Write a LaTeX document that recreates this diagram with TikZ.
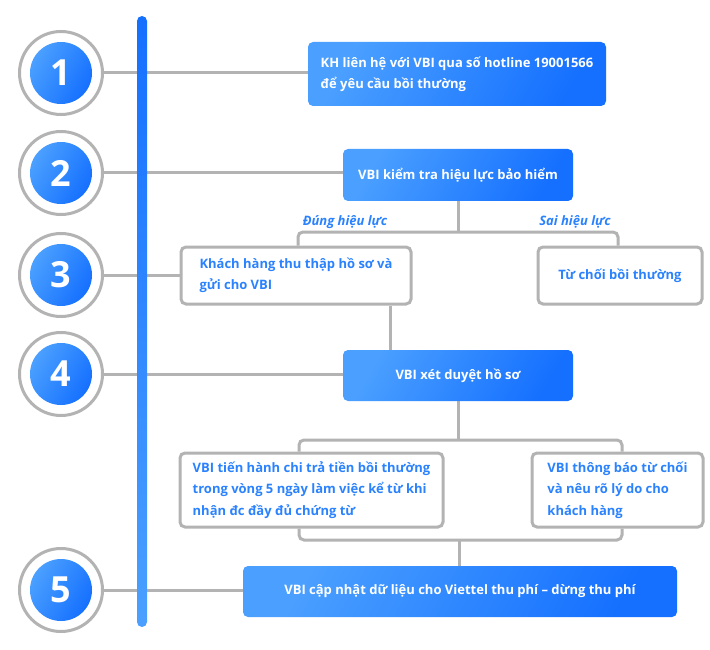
\documentclass[tikz,border=0pt]{standalone}
\usepackage{fontspec}
\setmainfont{Open Sans}
\usetikzlibrary{backgrounds}
\definecolor{bdark}{HTML}{1570FF}
\definecolor{blight}{HTML}{4BA0FF}
\definecolor{gline}{HTML}{B3B3B3}
\definecolor{tblue}{HTML}{2A82FF}
\pgfdeclarelayer{bgzero}
\pgfsetlayers{bgzero,background,main}
\tikzset{
  bluebox/.style={rounded corners=5pt, left color=blight, right color=bdark, shading angle=60,
    text=white, font=\bfseries\fontsize{13}{21}\selectfont, inner sep=0pt},
  whitebox/.style={rounded corners=5pt, draw=gline, line width=3pt, fill=white,
    text=tblue, font=\bfseries\fontsize{13}{21.5}\selectfont, inner sep=0pt},
  ring/.style={circle, draw=gline, line width=3pt, fill=white, minimum size=83pt, inner sep=0pt},
  disc/.style={circle, left color=blight, right color=bdark, shading angle=60, minimum size=62pt,
    inner sep=0pt, text=white, font=\bfseries\fontsize{36}{36}\selectfont},
  conn/.style={draw=gline, line width=3pt, rounded corners=5pt},
  brlabel/.style={text=tblue, font=\bfseries\itshape\fontsize{13}{14}\selectfont, inner sep=0pt}
}
\begin{document}
\begin{tikzpicture}[x=1pt,y=-1pt]
\begin{pgfonlayer}{bgzero}
\fill[white] (0,0) rectangle (710,650);
\end{pgfonlayer}
\useasboundingbox (0,0) rectangle (710,650);
% circles
\foreach \n/\y in {1/73,2/173,3/275,4/374,5/590}{
  \node[ring] (c\n) at (61,\y) {};
  \node[disc] (d\n) at (61,\y) {\n};
}
% boxes
\node[bluebox, minimum width=298pt, minimum height=64pt, align=left] (b1) at (457,74)
  {KH liên hệ với VBI qua số hotline 19001566\\để yêu cầu bồi thường};
\node[bluebox, minimum width=230pt, minimum height=52pt, align=center] (b2) at (458,175)
  {VBI kiểm tra hiệu lực bảo hiểm};
\node[whitebox, minimum width=230pt, minimum height=57pt, align=left] (b3) at (296,275.5)
  {Khách hàng thu thập hồ sơ và\\gửi cho VBI};
\node[whitebox, minimum width=164pt, minimum height=57pt, align=center] (b3r) at (620,275.5)
  {Từ chối bồi thường};
\node[bluebox, minimum width=230pt, minimum height=51pt, align=center] (b4) at (458,375.5)
  {VBI xét duyệt hồ sơ};
\node[whitebox, minimum width=263pt, minimum height=74pt, align=left] (b6) at (311.5,490)
  {VBI tiến hành chi trả tiền bồi thường\\trong vòng 5 ngày làm việc kể từ khi\\nhận đc đầy đủ chứng từ};
\node[whitebox, minimum width=171pt, minimum height=74pt, align=left] (b6r) at (617.5,490)
  {VBI thông báo từ chối\\và nêu rõ lý do cho\\khách hàng};
\node[bluebox, minimum width=434pt, minimum height=51pt, align=center] (b5) at (460,591.5)
  {VBI cập nhật dữ liệu cho Viettel thu phí – dừng thu phí};
% branch labels
\node[brlabel] (l1) at (345,222) {Đúng hiệu lực};
\node[brlabel] (l2) at (575,222) {Sai hiệu lực};
% connectors
\begin{pgfonlayer}{background}
\foreach \n/\b in {1/b1,2/b2,3/b3,4/b4,5/b5}{
  \draw[conn] (c\n.center) -- (c\n.center -| \b.west);
}
\coordinate (t1) at (298,232);
\coordinate (t2) at (618,232);
\draw[conn] (b2.south) -- (b2.south |- t1);
\draw[conn] (t1 |- b3.north) -- (t1) -- (t2) -- (t2 |- b3r.north);
\coordinate (j3) at (390,0);
\draw[conn] (j3 |- b3.south) -- (j3 |- b4.north);
\coordinate (u1) at (299,440);
\coordinate (u2) at (622,440);
\coordinate (v1) at (299,540);
\coordinate (v2) at (622,540);
\draw[conn] (b4.south) -- (b4.south |- u1);
\draw[conn] (u1 |- b6.north) -- (u1) -- (u2) -- (u2 |- b6r.north);
\draw[conn] (v1 |- b6.south) -- (v1) -- (v2) -- (v2 |- b6r.south);
\draw[conn] (459,540) -- (459,566);
\end{pgfonlayer}
% blue bar
\shade[top color=bdark, bottom color=blight, rounded corners=5pt] (137,16) rectangle (147,627);
\end{tikzpicture}
\end{document}
